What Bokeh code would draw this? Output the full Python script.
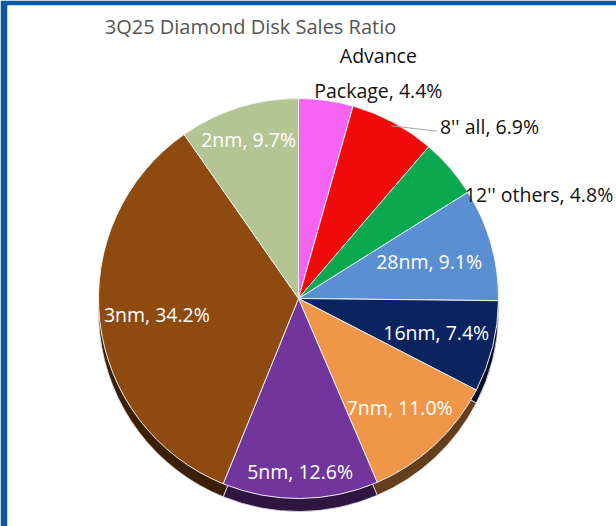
import numpy as np
from bokeh.plotting import figure
from bokeh.models import ColumnDataSource, Range1d, Label
from bokeh.embed import file_html
from bokeh.resources import INLINE
from bokeh.core.properties import value

# ---- data ----
categories = ["Advance\nPackage", "8'' all", "12'' others", "28nm", "16nm",
              "7nm", "5nm", "3nm", "2nm"]
shares = [4.4, 6.9, 4.8, 9.1, 7.4, 11.0, 12.6, 34.2, 9.7]
colors = ["#F464F0", "#F20A0A", "#0AA84F", "#5A8FD3", "#0B245F",
          "#EF9649", "#71359B", "#8E4A0F", "#B4C593"]
title_text = "3Q25 Diamond Disk Sales Ratio"

# ---- layout / style ----
R = 200            # pie radius (px == data units)
DEPTH = 13         # 3-D depth of the pie
FONT = "Open Sans"
LAB_SIZE = "19.5px"
lab_r = [1.2, 1.12, 1.05, 0.682, 0.713, 0.746, 0.87, 0.716, 0.836]
lab_dx = [47, 36, 8, 0, 0, 0, 0, 0, 0]
lab_dy = [-11, -24, -32, 0, 0, 0, 0, 0, 0]
lab_kind = ["outc", "outl", "outl", "in", "in", "in", "in", "in", "in"]


def darker(hexc, f=0.42):
    h = hexc.lstrip("#")
    r, g, b = (int(h[i:i + 2], 16) for i in (0, 2, 4))
    return "#%02x%02x%02x" % (int(r * f), int(g * f), int(b * f))


vals = np.array(shares, dtype=float)
frac = vals / vals.sum()
cum_end = np.cumsum(frac)
cum_start = cum_end - frac
start = np.pi / 2 - 2 * np.pi * cum_start
end = np.pi / 2 - 2 * np.pi * cum_end
mid = (start + end) / 2

src = ColumnDataSource(dict(
    start=start, end=end, color=colors,
    shadow=[darker(c) for c in colors],
))

W, H = 616, 526
BL, BT = 7, 5                 # blue frame border (left, top)
FW, FH = W - BL, H - BT       # plotting frame size
CX, CY = 291, 228             # pie centre inside the frame (px from left, bottom)

p = figure(width=W, height=H, output_backend="svg", toolbar_location=None,
           x_range=Range1d(-CX, FW - CX), y_range=Range1d(-CY, FH - CY),
           x_axis_type=None, y_axis_type=None,
           min_border_left=BL, min_border_top=BT,
           min_border_right=0, min_border_bottom=0)
p.grid.visible = False
p.outline_line_color = None
p.background_fill_color = "white"
p.border_fill_color = "#0A58A6"

# side / depth of the pie
p.wedge(x=0, y=-DEPTH, radius=R, start_angle="start", end_angle="end",
        direction="clock", source=src, fill_color="shadow",
        line_color="#E6E6E6", line_width=0.8)
# top face
p.wedge(x=0, y=0, radius=R, start_angle="start", end_angle="end",
        direction="clock", source=src, fill_color="color",
        line_color="#F0F0F0", line_width=1)

labels = [f"{c}, {v:.1f}%" for c, v in zip(categories, shares)]
lx = [199 * r * np.cos(a) + dx for r, a, dx in zip(lab_r, mid, lab_dx)]
ly = [199 * r * np.sin(a) + dy for r, a, dy in zip(lab_r, mid, lab_dy)]


def pick(kind):
    idx = [i for i, k in enumerate(lab_kind) if k == kind]
    return ColumnDataSource(dict(x=[lx[i] for i in idx], y=[ly[i] for i in idx],
                                 t=[labels[i] for i in idx]))


p.text(x="x", y="y", text="t", source=pick("in"), text_color="white",
       text_font=value(FONT), text_font_size=LAB_SIZE, text_align="center",
       text_baseline="middle")
p.text(x="x", y="y", text="t", source=pick("outc"), text_color="#111111",
       text_font=value(FONT), text_font_size=LAB_SIZE, text_align="center",
       text_baseline="middle", text_line_height=1.3)
p.text(x="x", y="y", text="t", source=pick("outl"), text_color="#111111",
       text_font=value(FONT), text_font_size=LAB_SIZE, text_align="left",
       text_baseline="middle")

# leader line for the "8'' all" label
i8 = 1
p.line(x=[(R - 4) * np.cos(mid[i8]), lx[i8] - 3], y=[(R - 4) * np.sin(mid[i8]), ly[i8] - 5],
       line_color="#A6A6A6", line_width=1)

p.add_layout(Label(x=-48, y=272, text=title_text, text_align="center",
                   text_baseline="middle", text_font=FONT, text_font_size="20px",
                   text_color="#545454"))

open("out.html", "w").write(file_html(p, INLINE))
